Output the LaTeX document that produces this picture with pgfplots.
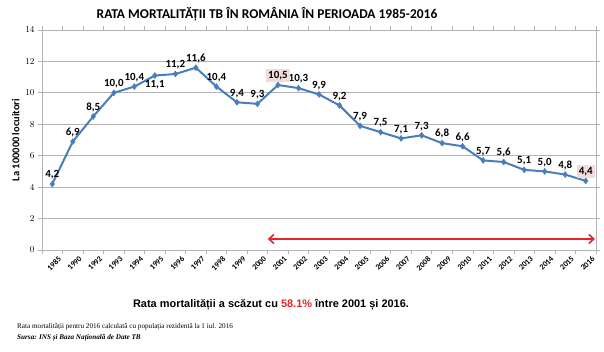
\documentclass[border=0pt]{standalone}
\usepackage{pgfplots}
\pgfplotsset{compat=1.18}
\usepackage{pgfplotstable}
\usetikzlibrary{arrows.meta}
\usepackage{fontspec}
\setmainfont{Carlito}
\newfontfamily\arialfont{Liberation Sans}
\newfontfamily\timesfont{Liberation Serif}
\definecolor{lineblue}{HTML}{4A7EBB}
\definecolor{pinkbg}{HTML}{F2DCDB}
\definecolor{redarrow}{HTML}{E3262B}
\definecolor{gridgray}{HTML}{B3B3B3}

\pgfplotstableread{
x y lab
0 4.2 {4,2}
1 6.9 {6,9}
2 8.5 {8,5}
3 10.0 {10,0}
4 10.4 {10,4}
6 11.2 {11,2}
7 11.6 {11,6}
8 10.4 {10,4}
9 9.4 {9,4}
10 9.3 {9,3}
12 10.3 {10,3}
13 9.9 {9,9}
14 9.2 {9,2}
15 7.9 {7,9}
16 7.5 {7,5}
17 7.1 {7,1}
18 7.3 {7,3}
19 6.8 {6,8}
20 6.6 {6,6}
21 5.7 {5,7}
22 5.6 {5,6}
23 5.1 {5,1}
24 5.0 {5,0}
25 4.8 {4,8}
}\labelsabove

\pgfplotstableread{
x y lab
5 11.1 {11,1}
}\labelsbelow

\pgfplotstableread{
x y lab
11 10.5 {10,5}
26 4.4 {4,4}
}\labelshigh

\begin{document}
\begin{tikzpicture}[x=1bp,y=1bp]
\useasboundingbox (0,0) rectangle (604,351);
\begin{axis}[
  at={(42bp,101bp)}, anchor=south west,
  scale only axis, width=554bp, height=220bp,
  xmin=-0.5, xmax=26.5, ymin=0, ymax=14,
  ytick={0,2,...,14},
  xtick={0,...,26},
  xticklabels={1985,1990,1992,1993,1994,1995,1996,1997,1998,1999,2000,2001,2002,2003,2004,2005,2006,2007,2008,2009,2010,2011,2012,2013,2014,2015,2016},
  minor xtick={-0.5,0.5,...,26.5},
  tick align=outside,
  major tick length=4bp, minor tick length=4bp,
  xtick style={draw=none},
  minor x tick style={draw=gridgray, line width=0.8pt},
  ytick style={draw=gridgray, line width=0.8pt},
  x tick label style={rotate=45, anchor=north east, font=\fontsize{8}{9}\selectfont\bfseries, inner sep=1bp, yshift=-4bp, xshift=4bp},
  y tick label style={font=\fontsize{9}{10}\selectfont\bfseries},
  ymajorgrids,
  major grid style={draw=gridgray, line width=0.9pt},
  axis line style={draw=gridgray, line width=0.9pt},
  ylabel={La 100000 locuitori},
  ylabel style={font=\fontsize{10.5}{12}\selectfont\bfseries, yshift=-1bp},
  clip=false,
  nodes near coords,
  point meta=explicit symbolic,
  every node near coord/.append style={font=\fontsize{11}{12}\selectfont\bfseries, text=black, inner sep=1.5bp},
]
\addplot[lineblue, line width=2bp, mark=diamond*, mark size=3bp, mark options={fill=lineblue, draw=lineblue, line width=0.5pt}, nodes near coords={}] coordinates {
(0,4.2) (1,6.9) (2,8.5) (3,10.0) (4,10.4) (5,11.1) (6,11.2) (7,11.6) (8,10.4) (9,9.4) (10,9.3) (11,10.5) (12,10.3) (13,9.9) (14,9.2) (15,7.9) (16,7.5) (17,7.1) (18,7.3) (19,6.8) (20,6.6) (21,5.7) (22,5.6) (23,5.1) (24,5.0) (25,4.8) (26,4.4)
};
\addplot[draw=none, mark=none, every node near coord/.append style={anchor=south, yshift=3bp}] table[x=x, y=y, meta=lab] {\labelsabove};
\addplot[draw=none, mark=none, every node near coord/.append style={anchor=north, yshift=-3bp}] table[x=x, y=y, meta=lab] {\labelsbelow};
\addplot[draw=none, mark=none, every node near coord/.append style={anchor=south, yshift=3bp, fill=pinkbg, inner sep=2bp}] table[x=x, y=y, meta=lab] {\labelshigh};
\addplot[redarrow, line width=1.6bp, {Straight Barb[length=5bp,width=9bp]}-{Straight Barb[length=5bp,width=9bp]}, nodes near coords={}] coordinates {(10.5,0.7) (26.45,0.7)};
\end{axis}
\node[font=\fontsize{13.5}{16}\selectfont\bfseries] at (267,337) {RATA MORTALITĂȚII TB ÎN ROMÂNIA ÎN PERIOADA 1985-2016};
\node[font=\arialfont\fontsize{11}{14}\selectfont\bfseries] at (271,46) {Rata mortalității a scăzut cu \textcolor{redarrow}{58.1\%} între 2001 și 2016.};
\node[font=\timesfont\fontsize{7.2}{8}\selectfont, anchor=west, inner sep=0pt] at (17,24) {Rata mortalității pentru 2016 calculată cu populația rezidentă la 1 iul. 2016};
\node[font=\timesfont\fontsize{7.2}{8}\selectfont\bfseries\itshape, anchor=west, inner sep=0pt] at (17,13) {Sursa: INS și Baza Națională de Date TB};
\end{tikzpicture}
\end{document}
